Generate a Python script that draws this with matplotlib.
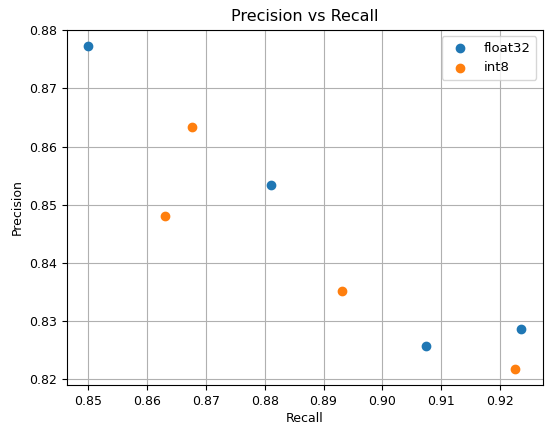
import matplotlib
matplotlib.use("Agg")
import matplotlib.pyplot as plt

f32_recall = [0.8500, 0.8810, 0.9074, 0.9236]
f32_precision = [0.8773, 0.8534, 0.8258, 0.8286]
i8_recall = [0.8677, 0.8631, 0.8931, 0.9226]
i8_precision = [0.8633, 0.8480, 0.8352, 0.8218]
labels = ["float32", "int8"]

fig = plt.figure(figsize=(5.5, 4.32), dpi=100)
ax = fig.add_axes([0.121, 0.109, 0.866, 0.822])
ax.scatter(f32_recall, f32_precision, label=labels[0], color="#1f77b4", s=36)
ax.scatter(i8_recall, i8_precision, label=labels[1], color="#ff7f0e", s=36)
ax.set_xlabel("Recall", fontsize=9, labelpad=3)
ax.set_ylabel("Precision", fontsize=9)
ax.set_title("Precision vs Recall", fontsize=11.5)
ax.tick_params(labelsize=9)
ax.grid(True, color="#b0b0b0", linewidth=0.8)
ax.set_axisbelow(True)
ax.legend(loc="upper right", fontsize=9.5)
fig.savefig("out.png", dpi=100)
